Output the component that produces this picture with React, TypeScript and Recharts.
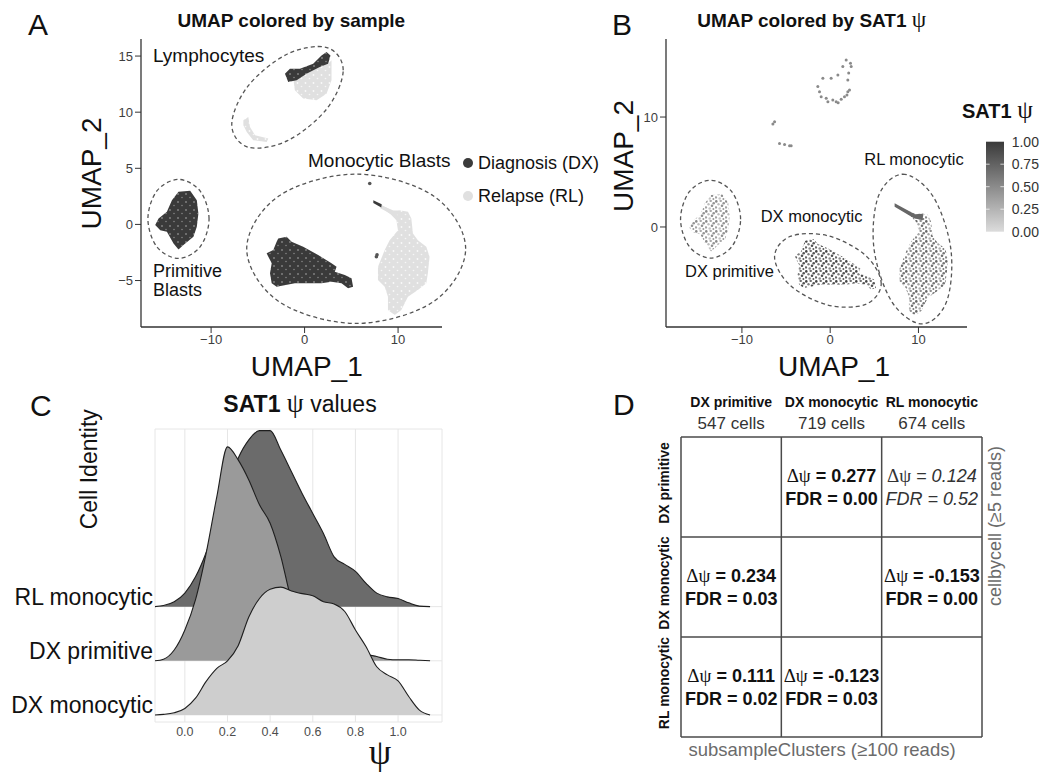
import React from 'react';
import {
  ScatterChart, Scatter, XAxis, YAxis, ComposedChart, Area,
  CartesianGrid, ReferenceLine, Legend,
} from 'recharts';

const SANS = "'Liberation Sans', Arial, Helvetica, sans-serif";
const SERIF = "'Liberation Serif', 'DejaVu Serif', 'Times New Roman', serif";

// ---------- Panels A / B : UMAP cluster outlines (UMAP_1, UMAP_2) ----------
const primitiveBlasts = [[-13.49,2.90],[-12.24,2.99],[-11.53,2.16],[-11.36,0.98],[-11.53,-0.21],[-11.89,-1.10],[-12.96,-1.84],[-13.49,-2.23],[-14.02,-1.69],[-14.73,-0.66],[-15.44,-0.51],[-15.98,-0.06],[-15.62,0.53],[-14.73,1.12],[-14.19,2.16]];
const lymphoDX = [[-2.10,13.43],[-1.57,13.88],[-0.50,13.88],[0.92,14.32],[1.81,15.06],[2.35,15.36],[2.77,15.06],[2.52,14.32],[1.63,14.02],[0.21,13.43],[-0.85,12.84],[-1.75,12.69]];
const lymphoRL = [[-1.21,12.99],[0.21,13.43],[1.63,14.02],[2.52,14.32],[2.88,14.62],[2.88,12.84],[2.35,11.65],[1.28,11.06],[-0.15,11.21],[-1.04,11.95]];
const lymphoTrail = [[-6.55,9.28],[-6.02,9.57],[-5.84,8.68],[-5.30,7.94],[-3.88,7.65],[-4.06,7.35],[-5.49,7.50],[-6.19,8.24],[-6.55,8.83]];
const monoDX = [[-2.82,-1.25],[-1.92,-1.10],[-1.39,-1.55],[-0.15,-1.99],[1.45,-2.73],[2.88,-3.47],[3.42,-3.77],[3.23,-4.22],[4.30,-4.51],[5.02,-4.80],[5.19,-5.55],[4.65,-5.69],[3.95,-5.25],[2.88,-5.11],[1.81,-5.25],[-1.04,-5.25],[-2.99,-5.55],[-3.52,-5.25],[-3.70,-4.36],[-3.52,-3.47],[-4.06,-2.58],[-3.35,-2.29],[-2.99,-1.55]];
const monoRL = [[8.57,1.57],[9.82,1.12],[10.17,1.27],[11.06,1.12],[11.42,0.53],[11.59,-0.80],[12.12,-1.40],[13.02,-1.99],[13.37,-2.88],[13.19,-4.36],[13.02,-5.25],[12.12,-5.85],[11.06,-6.44],[10.35,-7.62],[9.64,-8.07],[8.92,-7.62],[8.92,-6.44],[8.57,-5.55],[7.85,-4.96],[7.85,-3.77],[8.57,-2.29],[9.10,-1.40],[9.99,-0.51],[9.82,0.38],[9.28,0.83],[8.39,1.42]];
const monoRLTail = [[8.2,1.75],[9.3,1.25],[10.1,1.25],[10.1,0.85],[9.2,0.95],[8.1,1.45]];
const monoDXTrace = [[7.35,2.15],[8.25,1.8],[8.2,1.5],[7.35,1.9]];
const strayDots = [[6.97,3.65],[7.68,-2.88],[7.75,-2.7]];
const monoRLTailB = [[7.3,2.15],[9.6,1.15],[10.5,1.2],[10.5,0.6],[9.5,0.8],[7.3,1.85]];
const lymphoDotsB = [[1.81,15.2],[2.38,14.59],[2.0,13.37],[2.19,12.46],[1.62,11.85],[0.68,11.40],[-0.26,11.40],[-1.02,11.85],[-1.40,12.77],[-0.83,13.53],[0.11,13.53],[0.87,13.83],[1.43,14.59],[0.30,11.55],[1.25,11.61],[2.0,12.31],[-0.45,11.70],[-1.21,12.31],[0.9,11.3],[1.9,12.0],[2.1,14.0],[2.3,14.9],[-6.49,9.36],[-6.3,9.57],[-5.74,7.6],[-4.6,7.39],[-4.42,7.39],[-5.17,7.51]];

// dashed cluster outlines (points read around each ellipse)
const ellA_lymph = [[4.13,13.74],[2.38,15.76],[-1.83,15.18],[-6.04,12.34],[-7.79,8.90],[-6.04,6.88],[-1.83,7.46],[2.38,10.30]];
const ellA_prim = [[-10.22,0.49],[-11.18,2.98],[-13.49,4.01],[-15.80,2.98],[-16.76,0.49],[-15.80,-2.00],[-13.49,-3.03],[-11.18,-2.00]];
const ellA_mono = [[17.23,-2.17],[13.80,2.53],[5.52,4.48],[-2.76,2.53],[-6.19,-2.17],[-2.76,-6.87],[5.52,-8.82],[13.80,-6.87]];
const ellB_prim = [[-10.15,0.71],[-11.15,3.21],[-13.55,4.25],[-15.95,3.21],[-16.95,0.71],[-15.95,-1.79],[-13.55,-2.83],[-11.15,-1.79]];
const ellB_dxm = [[5.78,-5.17],[4.01,-2.59],[-0.26,-0.80],[-4.53,-0.86],[-6.30,-2.73],[-4.53,-5.31],[-0.26,-7.10],[4.01,-7.04]];
const ellB_rl = [[8.23,4.80],[11.63,2.81],[13.67,-2.01],[13.17,-6.83],[10.41,-8.82],[7.01,-6.83],[4.97,-2.01],[5.47,2.81]];

const sampleLegend = [
  { label: 'Diagnosis (DX)', color: '#3b3b3b' },
  { label: 'Relapse (RL)', color: '#e0e0e0' },
];
const colorbarTicks = [1.0, 0.75, 0.5, 0.25, 0.0];

// ---------- Panel C : ridgeline densities ----------
const psiGrid = [-0.14,-0.1,-0.05,0,0.05,0.1,0.15,0.2,0.25,0.3,0.35,0.4,0.45,0.5,0.55,0.6,0.65,0.7,0.75,0.8,0.85,0.9,0.95,1.0,1.05,1.1,1.15];
const densDXmono = [0,0.01,0.04,0.12,0.31,0.62,0.86,1.0,1.28,1.81,2.15,2.32,2.36,2.29,2.24,2.20,2.09,2.05,1.91,1.57,1.26,0.89,0.74,0.63,0.34,0.09,0];
const densDXprim = [0,0.03,0.2,0.57,1.13,1.99,3.03,3.95,3.71,3.34,2.88,2.54,1.93,1.13,0.8,0.6,0.45,0.35,0.28,0.2,0.12,0.08,0.03,0.02,0.02,0.01,0];
const densRLmono = [0,0.02,0.09,0.25,0.55,1.0,1.6,2.2,2.74,3.08,3.25,3.25,2.89,2.49,2.09,1.72,1.35,0.92,0.78,0.65,0.43,0.25,0.18,0.15,0.07,0.01,0];
const ridgeNames = ['DX monocytic', 'DX primitive', 'RL monocytic'];
const psiTicks = [0, 0.2, 0.4, 0.6, 0.8, 1.0];

// ---------- Panel D : pairwise table ----------
const groups = ['DX primitive', 'DX monocytic', 'RL monocytic'];
const cellCounts = [547, 719, 674];
const deltaPsi = [[null, 0.277, 0.124], [0.234, null, -0.153], [0.111, -0.123, null]];
const fdrValues = [[null, 0.0, 0.52], [0.03, null, 0.0], [0.02, 0.03, null]];

// ---------- helpers ----------
const P = (arr: number[][]) => arr.map(([x, y]) => ({ x, y }));
const noShape = () => <g />;
const fmtMinus = (v: number) => (v < 0 ? `\u2212${Math.abs(v)}` : `${v}`);

const polygon = (fill: string, stroke = 'none') => (props: any) => {
  const pts = props.points || [];
  if (pts.length < 3) return <g />;
  const d = pts.map((p: any, i: number) => `${i === 0 ? 'M' : 'L'}${p.x.toFixed(2)},${p.y.toFixed(2)}`).join(' ') + ' Z';
  return <path d={d} fill={fill} stroke={stroke} strokeWidth={1.5} strokeLinejoin="round" />;
};

const dashedClosed = (props: any) => {
  const p = props.points || [];
  const n = p.length;
  if (n < 3) return <g />;
  let d = `M${p[0].x},${p[0].y}`;
  for (let i = 0; i < n; i++) {
    const p0 = p[(i - 1 + n) % n], p1 = p[i], p2 = p[(i + 1) % n], p3 = p[(i + 2) % n];
    const c1x = p1.x + (p2.x - p0.x) / 6, c1y = p1.y + (p2.y - p0.y) / 6;
    const c2x = p2.x - (p3.x - p1.x) / 6, c2y = p2.y - (p3.y - p1.y) / 6;
    d += ` C${c1x.toFixed(2)},${c1y.toFixed(2)} ${c2x.toFixed(2)},${c2y.toFixed(2)} ${p2.x.toFixed(2)},${p2.y.toFixed(2)}`;
  }
  return <path d={d + ' Z'} fill="none" stroke="#555" strokeWidth={1.3} strokeDasharray="4 3" />;
};

const dot = (fill: string, r: number) => (p: any) => <circle cx={p.cx} cy={p.cy} r={r} fill={fill} />;

const axisTick = { fontSize: 13, fill: '#3d3d3d', fontFamily: SANS };
const axisLineStyle = { stroke: '#333', strokeWidth: 1.3 };

// speckle texture for panel B (positions within a 10px tile)
const speckle = [[1.3,1.4,1.3],[5.7,0.9,1.2],[8.7,3.2,1.3],[3.5,4.3,1.2],[7.0,5.8,1.3],[1.0,7.4,1.2],[4.7,8.5,1.3],[8.4,9.0,1.0]];
const speckleMono = ['#444','#6e6e6e','#555','#7d7d7d','#4d4d4d','#666','#8a8a8a','#5a5a5a'];
const speckleRL = ['#666','#8f8f8f','#777','#a5a5a5','#6d6d6d','#888','#b0b0b0','#7a7a7a'];
const specklePrim = ['#8a8a8a','#aaaaaa','#959595','#bdbdbd','#8f8f8f','#a3a3a3','#c4c4c4','#999999'];

const SpecklePattern = ({ id, colors }: { id: string; colors: string[] }) => (
  <pattern id={id} width="10" height="10" patternUnits="userSpaceOnUse">
    {speckle.map(([cx, cy, r], i) => <circle key={i} cx={cx} cy={cy} r={r} fill={colors[i]} />)}
  </pattern>
);

// ---------- Panel A ----------
const SampleLegend = () => (
  <svg width={160} height={62} style={{ overflow: 'visible', display: 'block' }}>
    {sampleLegend.map((s, i) => (
      <g key={s.label}>
        <circle cx={10} cy={15 + i * 33} r={5} fill={s.color} />
        <text x={20} y={20.5 + i * 33} fontSize={18} fontFamily={SANS} fill="#111">{s.label}</text>
      </g>
    ))}
  </svg>
);

const PanelA = () => (
  <ScatterChart width={525} height={390} margin={{ top: 39, right: 83, bottom: 0, left: 0 }}>
    <defs>
      <pattern id="aDark" width="8" height="8" patternUnits="userSpaceOnUse">
        <rect width="8" height="8" fill="#3a3a3a" />
        <circle cx="2" cy="2" r="0.8" fill="#fff" opacity="0.6" />
        <circle cx="6" cy="5.5" r="0.7" fill="#fff" opacity="0.45" />
      </pattern>
      <pattern id="aLight" width="8" height="8" patternUnits="userSpaceOnUse">
        <rect width="8" height="8" fill="#e0e0e0" />
        <circle cx="1.5" cy="3" r="0.9" fill="#fff" opacity="0.8" />
        <circle cx="5.5" cy="6.5" r="0.8" fill="#fff" opacity="0.7" />
      </pattern>
    </defs>
    <XAxis type="number" dataKey="x" domain={[-17.5, 14.7]} ticks={[-10, 0, 10]} allowDataOverflow height={63}
      tickSize={6} tick={axisTick} tickFormatter={fmtMinus} axisLine={axisLineStyle} tickLine={{ stroke: '#333' }} />
    <YAxis type="number" dataKey="y" domain={[-9.14, 16.52]} ticks={[-5, 0, 5, 10, 15]} allowDataOverflow width={141}
      tickSize={6} tick={axisTick} tickFormatter={fmtMinus} axisLine={axisLineStyle} tickLine={{ stroke: '#333' }} />
    <Scatter data={P(lymphoTrail)} shape={noShape} line={polygon('url(#aLight)')} isAnimationActive={false} />
    <Scatter data={P(lymphoRL)} shape={noShape} line={polygon('url(#aLight)')} isAnimationActive={false} />
    <Scatter data={P(lymphoDX)} shape={noShape} line={polygon('url(#aDark)')} isAnimationActive={false} />
    <Scatter data={P(primitiveBlasts)} shape={noShape} line={polygon('url(#aDark)')} isAnimationActive={false} />
    <Scatter data={P(monoRL)} shape={noShape} line={polygon('url(#aLight)')} isAnimationActive={false} />
    <Scatter data={P(monoRLTail)} shape={noShape} line={polygon('#e0e0e0')} isAnimationActive={false} />
    <Scatter data={P(monoDXTrace)} shape={noShape} line={polygon('#3a3a3a')} isAnimationActive={false} />
    <Scatter data={P(monoDX)} shape={noShape} line={polygon('url(#aDark)')} isAnimationActive={false} />
    <Scatter data={P(strayDots)} shape={dot('#555', 1.8)} isAnimationActive={false} />
    <Scatter data={P(ellA_lymph)} shape={noShape} line={dashedClosed} isAnimationActive={false} />
    <Scatter data={P(ellA_prim)} shape={noShape} line={dashedClosed} isAnimationActive={false} />
    <Scatter className="no-clip" data={P(ellA_mono)} shape={noShape} line={dashedClosed} isAnimationActive={false} />
    <Legend layout="horizontal" verticalAlign="middle" align="center"
      wrapperStyle={{ left: 458, top: 148, width: 160, height: 62 }} content={() => <SampleLegend />} />
  </ScatterChart>
);

// ---------- Panel B ----------
const ColorBar = () => (
  <svg width={120} height={150} style={{ overflow: 'visible', display: 'block' }}>
    <defs>
      <linearGradient id="cbGrad" x1="0" y1="0" x2="0" y2="1">
        <stop offset="0" stopColor="#3a3a3a" />
        <stop offset="1" stopColor="#dcdcdc" />
      </linearGradient>
    </defs>
    <text x={7} y={23.3} fontFamily={SANS} fontSize={20} fontWeight="bold" fill="#111">
      SAT1{' '}<tspan fontFamily={SERIF} fontWeight="normal" fontSize={25}>ψ</tspan>
    </text>
    <rect x={31} y={46.7} width={18} height={90} fill="url(#cbGrad)" />
    {colorbarTicks.map((t) => {
      const yy = 46.7 + (1 - t) * 90;
      return (
        <g key={t}>
          {t > 0 && t < 1 && <line x1={31} x2={34.6} y1={yy} y2={yy} stroke="#fff" strokeOpacity={0.7} />}
          {t > 0 && t < 1 && <line x1={45.4} x2={49} y1={yy} y2={yy} stroke="#fff" strokeOpacity={0.7} />}
          <text x={56.7} y={yy} dy="0.36em" fontSize={14} fontFamily={SANS} fill="#333">{t.toFixed(2)}</text>
        </g>
      );
    })}
  </svg>
);

const PanelB = () => (
  <ScatterChart width={525} height={390} margin={{ top: 39, right: 83, bottom: 0, left: 0 }}>
    <defs>
      <SpecklePattern id="bMono" colors={speckleMono} />
      <SpecklePattern id="bRL" colors={speckleRL} />
      <SpecklePattern id="bPrim" colors={specklePrim} />
    </defs>
    <XAxis type="number" dataKey="x" domain={[-18.6, 15.5]} ticks={[-10, 0, 10]} allowDataOverflow height={63}
      tickSize={6} tick={axisTick} tickFormatter={fmtMinus} axisLine={axisLineStyle} tickLine={{ stroke: '#333' }} />
    <YAxis type="number" dataKey="y" domain={[-9.1, 17.1]} ticks={[0, 10]} allowDataOverflow width={141}
      tickSize={6} tick={axisTick} tickFormatter={fmtMinus} axisLine={axisLineStyle} tickLine={{ stroke: '#333' }} />
    <Scatter data={P(primitiveBlasts)} shape={noShape} line={polygon('url(#bPrim)')} isAnimationActive={false} />
    <Scatter data={P(monoDX)} shape={noShape} line={polygon('url(#bMono)')} isAnimationActive={false} />
    <Scatter data={P(monoRL)} shape={noShape} line={polygon('url(#bRL)')} isAnimationActive={false} />
    <Scatter data={P(monoRLTailB)} shape={noShape} line={polygon('#666')} isAnimationActive={false} />
    <Scatter data={P(lymphoDotsB)} shape={dot('#8a8a8a', 1.5)} isAnimationActive={false} />
    <Scatter data={P(ellB_prim)} shape={noShape} line={dashedClosed} isAnimationActive={false} />
    <Scatter data={P(ellB_dxm)} shape={noShape} line={dashedClosed} isAnimationActive={false} />
    <Scatter data={P(ellB_rl)} shape={noShape} line={dashedClosed} isAnimationActive={false} />
    <Legend layout="horizontal" verticalAlign="middle" align="center"
      wrapperStyle={{ left: 430, top: 95, width: 120, height: 150 }} content={() => <ColorBar />} />
  </ScatterChart>
);

// ---------- Panel C ----------
const ridgeData = psiGrid.map((x, i) => ({ x, dm: densDXmono[i], dp: densDXprim[i], rl: densRLmono[i] }));

const RidgeTick = (props: any) => {
  const { x, y, payload } = props;
  return (
    <text x={x} y={y - 1.5} textAnchor="end" fontSize={23} fontFamily={SANS} fill="#111">
      {ridgeNames[payload.value]}
    </text>
  );
};

const PanelC = () => (
  <ComposedChart width={525} height={399} data={ridgeData} margin={{ top: 49, right: 83, bottom: 0, left: 0 }}>
    <CartesianGrid stroke="#e6e6e6" strokeWidth={1} />
    <XAxis type="number" dataKey="x" domain={[-0.14, 1.206]} ticks={psiTicks} allowDataOverflow height={57}
      axisLine={false} tickLine={false} tickSize={0} tickMargin={5}
      tick={{ fontSize: 12.5, fill: '#4d4d4d', fontFamily: SANS }} tickFormatter={(v: number) => v.toFixed(1)} />
    <YAxis type="number" domain={[-0.13, 5.28]} ticks={[0, 1, 2]} allowDataOverflow width={155}
      axisLine={false} tickLine={false} tickSize={0} tick={<RidgeTick />} />
    <Area type="monotone" dataKey={(d: any) => d.rl + 2} baseValue={2} fill="#6b6b6b" fillOpacity={1}
      stroke="#1e1e1e" strokeWidth={1.1} isAnimationActive={false} dot={false} activeDot={false} />
    <Area type="monotone" dataKey={(d: any) => d.dp + 1} baseValue={1} fill="#9a9a9a" fillOpacity={1}
      stroke="#1e1e1e" strokeWidth={1.1} isAnimationActive={false} dot={false} activeDot={false} />
    <Area type="monotone" dataKey="dm" baseValue={0} fill="#cecece" fillOpacity={1}
      stroke="#1e1e1e" strokeWidth={1.1} isAnimationActive={false} dot={false} activeDot={false} />
  </ComposedChart>
);

// ---------- Panel D ----------
const cells: any[] = [];
deltaPsi.forEach((row, r) => row.forEach((v, c) => {
  if (v !== null) cells.push({ x: c + 0.5, y: r + 0.5, dpsi: v, fdr: fdrValues[r][c] });
}));

const CellText = (p: any) => {
  const { cx, cy, payload } = p;
  const ns = payload.fdr > 0.05;
  const style: any = ns
    ? { fontWeight: 'normal', fontStyle: 'italic', fill: '#333' }
    : { fontWeight: 'bold', fontStyle: 'normal', fill: '#111' };
  return (
    <g>
      <text x={cx} y={cy - 5.3} textAnchor="middle" fontFamily={SANS} fontSize={18} {...style}>
        <tspan fontFamily={SERIF} fontWeight="normal" fontStyle="normal" fontSize={19}>Δψ</tspan>
        <tspan>{` = ${payload.dpsi.toFixed(3)}`}</tspan>
      </text>
      <text x={cx} y={cy + 17.5} textAnchor="middle" fontFamily={SANS} fontSize={18} {...style}>
        {`FDR = ${payload.fdr.toFixed(2)}`}
      </text>
    </g>
  );
};

const ColTick = (props: any) => {
  const { x, payload } = props;
  const i = Math.round(payload.value - 0.5);
  return (
    <g>
      <text x={x} y={26.7} textAnchor="middle" fontFamily={SANS} fontSize={14} fontWeight="bold" fill="#111">{groups[i]}</text>
      <text x={x} y={49.3} textAnchor="middle" fontFamily={SANS} fontSize={17} fill="#333">{`${cellCounts[i]} cells`}</text>
    </g>
  );
};

const RowTick = (props: any) => {
  const { y, payload } = props;
  const i = Math.round(payload.value - 0.5);
  const bx = 68.5, by = y - 4;
  return (
    <text x={bx} y={by} transform={`rotate(-90, ${bx}, ${by})`} textAnchor="middle" fontFamily={SANS}
      fontSize={14} fontWeight="bold" fill="#111">{groups[i]}</text>
  );
};

const PanelD = () => (
  <ScatterChart width={450} height={399} margin={{ top: 0, right: 68, bottom: 42, left: 0 }}>
    <XAxis type="number" dataKey="x" orientation="top" domain={[0, 3]} ticks={[0.5, 1.5, 2.5]} allowDataOverflow
      height={57} axisLine={false} tickLine={false} tick={<ColTick />} />
    <YAxis type="number" dataKey="y" domain={[0, 3]} reversed ticks={[0.5, 1.5, 2.5]} allowDataOverflow
      width={81} axisLine={false} tickLine={false} tick={<RowTick />} />
    {[0, 1, 2, 3].map((v) => <ReferenceLine key={`v${v}`} x={v} stroke="#4a4a4a" strokeWidth={1.5} />)}
    {[0, 1, 2, 3].map((v) => <ReferenceLine key={`h${v}`} y={v} stroke="#4a4a4a" strokeWidth={1.5} />)}
    <Scatter data={cells} shape={CellText} isAnimationActive={false} />
  </ScatterChart>
);

// ---------- overlay text ----------
const Overlay = () => (
  <svg width={1050} height={779} style={{ position: 'absolute', left: 0, top: 0, pointerEvents: 'none' }}>
    <g fontFamily={SANS} fill="#111">
      <text x={28} y={35} fontSize={30}>A</text>
      <text x={612} y={35} fontSize={30}>B</text>
      <text x={30} y={415.5} fontSize={30}>C</text>
      <text x={613} y={415} fontSize={30}>D</text>

      <text x={291.3} y={26.5} fontSize={19} fontWeight="bold" textAnchor="middle">UMAP colored by sample</text>
      <text x={811.7} y={26.5} fontSize={19} fontWeight="bold" textAnchor="middle">
        UMAP colored by SAT1{' '}<tspan fontFamily={SERIF} fontWeight="normal" fontSize={23}>ψ</tspan>
      </text>

      <text x={101} y={173.5} fontSize={28} textAnchor="middle" transform="rotate(-90, 101, 173.5)">UMAP_2</text>
      <text x={306.7} y={376} fontSize={28} textAnchor="middle">UMAP_1</text>
      <text x={632.5} y={156} fontSize={28} textAnchor="middle" transform="rotate(-90, 632.5, 156)">UMAP_2</text>
      <text x={834} y={376} fontSize={28} textAnchor="middle">UMAP_1</text>

      <text x={153} y={62} fontSize={19}>Lymphocytes</text>
      <text x={308} y={167} fontSize={19}>Monocytic Blasts</text>
      <text x={153} y={276.5} fontSize={18}>Primitive</text>
      <text x={153} y={296} fontSize={18}>Blasts</text>

      <text x={864.3} y={165} fontSize={16.5}>RL monocytic</text>
      <text x={760.7} y={221.7} fontSize={16.5}>DX monocytic</text>
      <text x={685} y={276.7} fontSize={16.5}>DX primitive</text>

      <text x={300} y={411.7} fontSize={23} textAnchor="middle">
        <tspan fontWeight="bold">SAT1</tspan>{' '}<tspan fontFamily={SERIF} fontSize={27}>ψ</tspan>{' '}values
      </text>
      <text x={97} y={469.2} fontSize={23} textAnchor="middle" transform="rotate(-90, 97, 469.2)">Cell Identity</text>
      <text x={380} y={764} fontSize={36} fontFamily={SERIF} textAnchor="middle">ψ</text>

      <text x={1001} y={526} fontSize={18} fill="#6b6b6b" textAnchor="middle" transform="rotate(-90, 1001, 526)">cellbycell (≥5 reads)</text>
      <text x={822} y={756} fontSize={18.5} fill="#6b6b6b" textAnchor="middle">subsampleClusters (≥100 reads)</text>
    </g>
  </svg>
);

export default function App() {
  return (
    <div style={{ position: 'absolute', left: 0, top: 0, width: 1050, height: 779, background: '#fff', fontFamily: SANS, overflow: 'hidden' }}>
      <style>{`.no-clip, .no-clip * { clip-path: none !important; }`}</style>
      <div style={{ position: 'absolute', left: 0, top: 0 }}><PanelA /></div>
      <div style={{ position: 'absolute', left: 525, top: 0 }}><PanelB /></div>
      <div style={{ position: 'absolute', left: 0, top: 380 }}><PanelC /></div>
      <div style={{ position: 'absolute', left: 600, top: 380 }}><PanelD /></div>
      <Overlay />
    </div>
  );
}
